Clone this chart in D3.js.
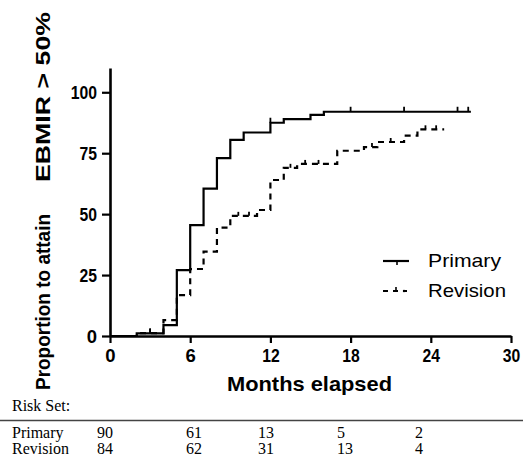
<!DOCTYPE html>
<html><head><meta charset="utf-8">
<script src="https://cdn.jsdelivr.net/npm/d3@7"></script>
<style>
html,body{margin:0;padding:0;background:#fff;}
svg{display:block;}
</style></head>
<body>
<svg id="chart" width="523" height="456"></svg>
<script>
// ---- data ----
const primaryTimes  = [0, 2, 4, 5, 6, 7, 8, 9, 10, 12, 13, 15, 16];
const primaryValues = [0, 1.1, 4.5, 27, 45.5, 60.5, 73, 80.5, 83.5, 87.5, 89, 90.7, 92];
const primaryEnd = 27;
const primaryCensor = [3, 12, 18, 22, 26, 26.8];

const revisionTimes  = [0, 2, 4, 5, 6, 7, 8, 9, 11, 12, 13, 14, 17, 19, 20, 22, 23];
const revisionValues = [0, 1.2, 6.5, 16.8, 27.5, 34.6, 44.5, 49.3, 51.7, 64, 69, 70.6, 76, 77.5, 79.6, 82.2, 84.8];
const revisionEnd = 25;
const revisionCensor = [3, 9.6, 10.4, 13.5, 14.6, 15.6, 19.6, 21, 23.6, 24.4];

const xTicks = [0, 6, 12, 18, 24, 30];
const yTicks = [0, 25, 50, 75, 100];
const seriesNames = ["Primary", "Revision"];
const riskPrimary  = [90, 61, 13, 5, 2];
const riskRevision = [84, 62, 31, 13, 4];

// ---- layout ----
const svg = d3.select("#chart");
const x = d3.scaleLinear().domain([0, 30]).range([110, 511]);
const y = d3.scaleLinear().domain([0, 110]).range([336, 67.9]);
const riskCols = [97, 186, 258, 337, 415];

function squeeze(sel, f) {
  sel.each(function () {
    const len = this.getComputedTextLength();
    d3.select(this).attr("textLength", len * f).attr("lengthAdjust", "spacingAndGlyphs");
  });
}

// step path builder
function stepPoints(times, vals, end) {
  const pts = times.map((t, i) => [t, vals[i]]);
  pts.push([end, vals[vals.length - 1]]);
  return pts;
}
const line = d3.line().x(d => x(d[0])).y(d => y(d[1])).curve(d3.curveStepAfter);
function valueAt(times, vals, t) {
  let v = vals[0];
  for (let i = 0; i < times.length; i++) if (times[i] <= t) v = vals[i];
  return v;
}

// curves
svg.append("path")
  .attr("d", line(stepPoints(revisionTimes, revisionValues, revisionEnd)))
  .attr("fill", "none").attr("stroke", "#000").attr("stroke-width", 2.2)
  .attr("stroke-dasharray", "6,5");
svg.append("path")
  .attr("d", line(stepPoints(primaryTimes, primaryValues, primaryEnd)))
  .attr("fill", "none").attr("stroke", "#000").attr("stroke-width", 2.2);

// censor marks
svg.selectAll(".cp").data(primaryCensor).enter().append("line")
  .attr("x1", d => x(d)).attr("x2", d => x(d))
  .attr("y1", d => y(valueAt(primaryTimes, primaryValues, d)) - 5)
  .attr("y2", d => y(valueAt(primaryTimes, primaryValues, d)))
  .attr("stroke", "#000").attr("stroke-width", 1.8);
svg.selectAll(".cr").data(revisionCensor).enter().append("line")
  .attr("x1", d => x(d)).attr("x2", d => x(d))
  .attr("y1", d => y(valueAt(revisionTimes, revisionValues, d)) - 4)
  .attr("y2", d => y(valueAt(revisionTimes, revisionValues, d)))
  .attr("stroke", "#000").attr("stroke-width", 1.8);

// axes
const yAxis = svg.append("g").attr("transform", "translate(110,0)")
  .call(d3.axisLeft(y).tickValues(yTicks).tickSize(8).tickSizeOuter(0).tickPadding(5));
const xAxis = svg.append("g").attr("transform", "translate(0,336)")
  .call(d3.axisBottom(x).tickValues(xTicks).tickSize(7).tickSizeOuter(0).tickPadding(5));
[yAxis, xAxis].forEach(g => {
  g.select(".domain").attr("stroke", "#000").attr("stroke-width", 2.6);
  g.selectAll(".tick line").attr("stroke", "#000").attr("stroke-width", 2.2);
  g.selectAll("text").attr("fill", "#000")
    .style("font-family", "Liberation Sans, Arial, sans-serif")
    .style("font-weight", "bold").style("font-size", "18.5px");
});
yAxis.selectAll("text").attr("dy", "0.36em");
xAxis.selectAll("text").attr("dy", "0.78em");
squeeze(yAxis.selectAll("text").filter(d => d >= 10), 0.85);
squeeze(xAxis.selectAll("text").filter(d => d >= 10), 0.85);

// axis titles
const bold = "Liberation Sans, Arial, sans-serif";
svg.append("text").text("Months elapsed")
  .attr("x", 309.5).attr("y", 391).attr("text-anchor", "middle")
  .style("font-family", bold).style("font-weight", "bold").style("font-size", "21px")
  .attr("textLength", 165).attr("lengthAdjust", "spacingAndGlyphs");
svg.append("text").text("Proportion to attain")
  .attr("transform", "translate(50,390) rotate(-90)")
  .style("font-family", bold).style("font-weight", "bold").style("font-size", "21px")
  .attr("textLength", 176).attr("lengthAdjust", "spacingAndGlyphs");
svg.append("text").text("EBMIR > 50%")
  .attr("transform", "translate(50,182) rotate(-90)")
  .style("font-family", bold).style("font-weight", "bold").style("font-size", "21px")
  .attr("textLength", 170).attr("lengthAdjust", "spacingAndGlyphs");

// legend
const leg = svg.append("g");
leg.append("line").attr("x1", 383).attr("x2", 409).attr("y1", 261).attr("y2", 261)
  .attr("stroke", "#000").attr("stroke-width", 2.2);
leg.append("line").attr("x1", 397).attr("x2", 397).attr("y1", 261).attr("y2", 265)
  .attr("stroke", "#000").attr("stroke-width", 1.6);
leg.append("line").attr("x1", 383).attr("x2", 407).attr("y1", 291).attr("y2", 291)
  .attr("stroke", "#000").attr("stroke-width", 2.2).attr("stroke-dasharray", "5,5");
leg.append("line").attr("x1", 396).attr("x2", 396).attr("y1", 287).attr("y2", 291)
  .attr("stroke", "#000").attr("stroke-width", 1.6);
leg.append("circle").attr("cx", 404).attr("cy", 291).attr("r", 1.2).attr("fill", "#000");
leg.selectAll("text.lg").data(seriesNames).enter().append("text")
  .text(d => d).attr("x", 428).attr("y", (d, i) => 267 + i * 30)
  .style("font-family", bold).style("font-size", "18.5px").attr("fill", "#000")
  .attr("textLength", (d, i) => i === 0 ? 73 : 78).attr("lengthAdjust", "spacingAndGlyphs");

// risk table
const serif = "Liberation Serif, Times New Roman, serif";
svg.append("text").text("Risk Set:").attr("x", 12).attr("y", 411)
  .style("font-family", serif).style("font-size", "16px").attr("fill", "#000");
svg.append("line").attr("x1", 0).attr("x2", 523).attr("y1", 420.5).attr("y2", 420.5)
  .attr("stroke", "#444").attr("stroke-width", 1.3);
[riskPrimary, riskRevision].forEach((row, r) => {
  const yy = 438 + r * 16;
  svg.append("text").text(seriesNames[r]).attr("x", 12).attr("y", yy)
    .style("font-family", serif).style("font-size", "16px").attr("fill", "#000");
  svg.selectAll(null).data(row).enter().append("text")
    .text(d => d).attr("x", (d, i) => riskCols[i]).attr("y", yy)
    .style("font-family", serif).style("font-size", "16px").attr("fill", "#000");
});
</script>
</body></html>
